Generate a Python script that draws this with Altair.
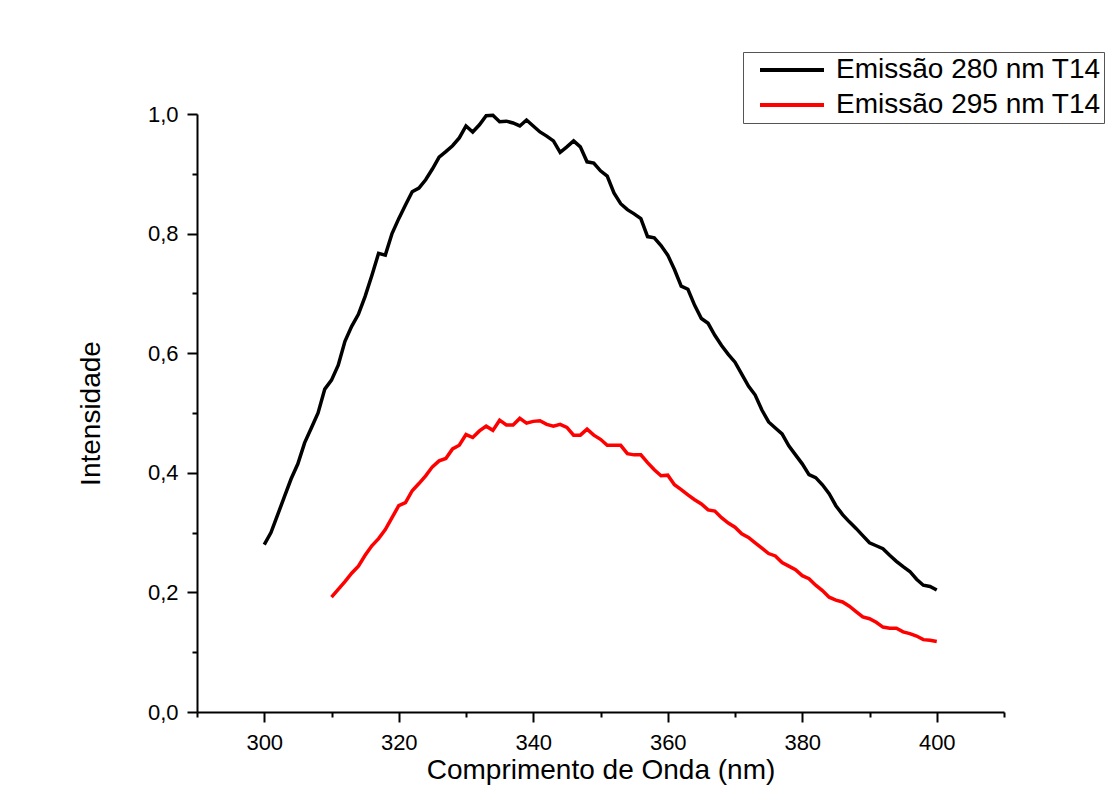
import altair as alt
import pandas as pd

# Wavelengths (nm)
black_x = list(range(300, 401))
red_x = list(range(310, 401))

# Emissão 280 nm T14
black_y = [0.280, 0.300, 0.330, 0.360, 0.390, 0.415, 0.450, 0.475, 0.500, 0.540,
           0.555, 0.580, 0.620, 0.645, 0.665, 0.695, 0.730, 0.767, 0.764, 0.800,
           0.825, 0.848, 0.870, 0.876, 0.890, 0.908, 0.928, 0.937, 0.947, 0.960,
           0.980, 0.970, 0.982, 0.997, 0.998, 0.987, 0.988, 0.985, 0.980, 0.990,
           0.980, 0.970, 0.963, 0.955, 0.936, 0.945, 0.955, 0.945, 0.920, 0.918,
           0.905, 0.896, 0.868, 0.850, 0.840, 0.833, 0.825, 0.795, 0.793, 0.780,
           0.764, 0.740, 0.712, 0.707, 0.680, 0.658, 0.650, 0.630, 0.613, 0.598,
           0.585, 0.565, 0.545, 0.530, 0.505, 0.485, 0.475, 0.465, 0.445, 0.430,
           0.415, 0.397, 0.392, 0.380, 0.365, 0.345, 0.330, 0.318, 0.307, 0.295,
           0.283, 0.278, 0.273, 0.262, 0.252, 0.243, 0.235, 0.222, 0.212, 0.210,
           0.204]

# Emissão 295 nm T14
red_y = [0.192, 0.205, 0.218, 0.232, 0.244, 0.262, 0.278, 0.290, 0.305, 0.325,
         0.345, 0.350, 0.370, 0.382, 0.395, 0.410, 0.420, 0.424, 0.440, 0.446,
         0.464, 0.459, 0.470, 0.478, 0.471, 0.488, 0.480, 0.480, 0.491, 0.483,
         0.486, 0.487, 0.481, 0.478, 0.481, 0.476, 0.463, 0.463, 0.473, 0.463,
         0.456, 0.446, 0.446, 0.446, 0.432, 0.430, 0.430, 0.417, 0.405, 0.395,
         0.396, 0.380, 0.372, 0.363, 0.355, 0.348, 0.338, 0.336, 0.325, 0.316,
         0.309, 0.298, 0.292, 0.283, 0.274, 0.265, 0.261, 0.250, 0.244, 0.238,
         0.228, 0.223, 0.212, 0.203, 0.192, 0.187, 0.184, 0.177, 0.168, 0.159,
         0.156, 0.150, 0.142, 0.140, 0.140, 0.134, 0.131, 0.127, 0.121, 0.120,
         0.118]

series_names = ["Emissão 280 nm T14", "Emissão 295 nm T14"]
series_colors = ["#000000", "#ff0000"]

x_ticks = [290, 300, 310, 320, 330, 340, 350, 360, 370, 380, 390, 400, 410]
y_ticks = [0.0, 0.1, 0.2, 0.3, 0.4, 0.5, 0.6, 0.7, 0.8, 0.9, 1.0]

df = pd.concat([
    pd.DataFrame({"wl": black_x, "val": black_y, "serie": series_names[0], "o": range(len(black_x))}),
    pd.DataFrame({"wl": red_x, "val": red_y, "serie": series_names[1], "o": range(len(red_x))}),
])

FONT = "Liberation Sans"

x_axis = alt.Axis(
    values=x_ticks,
    title="Comprimento de Onda (nm)",
    titleFont=FONT, titleFontSize=28, titleFontWeight="normal", titleColor="#000",
    titleY=66, titleBaseline="alphabetic",
    labelFont=FONT, labelFontSize=22, labelColor="#000", labelPadding=10,
    labelExpr="datum.value % 20 == 0 ? datum.label : ''",
    tickSize={"condition": {"test": "datum.value % 20 == 0", "value": 10}, "value": 5},
    tickColor="#000", tickWidth=2, domainColor="#000", domainWidth=2,
    grid=False, labelFlush=False, labelOverlap=False,
)
y_axis = alt.Axis(
    values=y_ticks,
    title="Intensidade",
    titleFont=FONT, titleFontSize=28, titleFontWeight="normal", titleColor="#000",
    titleX=-98, titleBaseline="alphabetic",
    labelFont=FONT, labelFontSize=22, labelColor="#000", labelPadding=9,
    labelExpr="round(datum.value*10) % 2 == 0 ? replace(format(datum.value, '.1f'), '.', ',') : ''",
    tickSize={"condition": {"test": "round(datum.value*10) % 2 == 0", "value": 10}, "value": 5},
    tickColor="#000", tickWidth=2, domainColor="#000", domainWidth=2,
    grid=False, labelFlush=False, labelOverlap=False,
)

legend = alt.Legend(
    orient="none", legendX=546, legendY=-62, title=None,
    symbolType="stroke", symbolSize=4096, symbolStrokeWidth=4,
    labelFont=FONT, labelFontSize=28, labelColor="#000", labelOffset=10,
    strokeColor="#555555", fillColor="white", padding=3, symbolOffset=12,
    rowPadding=5, clipHeight=30, labelLimit=400,
)

chart = alt.Chart(df).mark_line(strokeWidth=3.5, clip=False).encode(
    x=alt.X("wl:Q", scale=alt.Scale(domain=[290, 410], nice=False, zero=False), axis=x_axis),
    y=alt.Y("val:Q", scale=alt.Scale(domain=[0, 1], nice=False), axis=y_axis),
    color=alt.Color("serie:N", scale=alt.Scale(domain=series_names, range=series_colors),
                    sort=series_names, legend=legend),
    order="o:Q",
).properties(
    width=807, height=598,
    background="white",
    autosize=alt.AutoSizeParams(type="none"),
    padding={"left": 189, "top": 106, "right": 106, "bottom": 76},
).configure_view(stroke=None, strokeWidth=0)

chart.save("out.html", embed_options={"renderer": "svg", "actions": False})
